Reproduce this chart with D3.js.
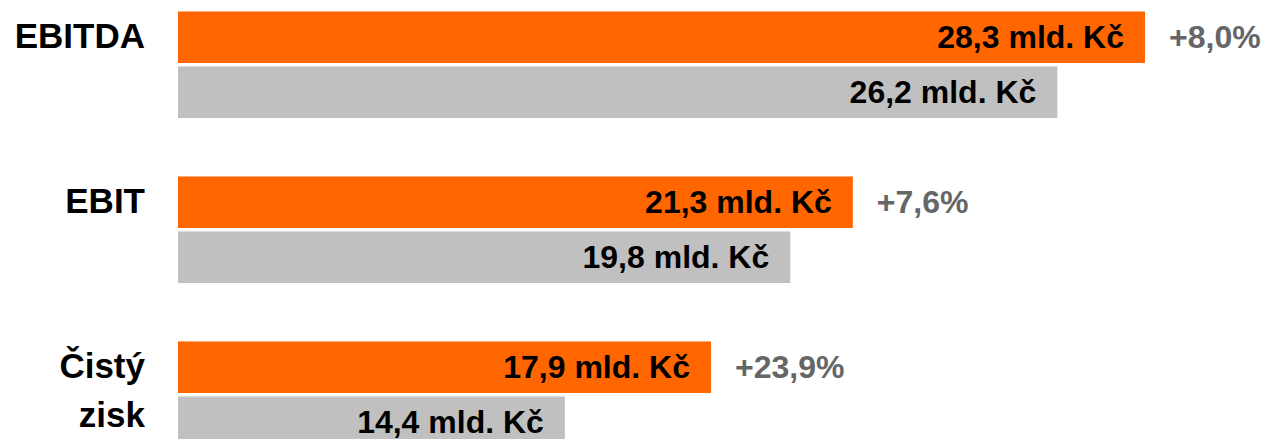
<!DOCTYPE html>
<html>
<head>
<meta charset="utf-8">
<script src="https://cdn.jsdelivr.net/npm/d3@7"></script>
<style>
  html, body { margin: 0; padding: 0; background: #fff; }
  svg { display: block; font-family: "Liberation Sans", Arial, sans-serif; font-weight: bold; }
</style>
</head>
<body>
<svg width="1265" height="439"></svg>
<script>
var categories = ["EBITDA", "EBIT", "Čistý zisk"];
var current = [28.3, 21.3, 17.9];
var previous = [26.2, 19.8, 14.4];
var change = ["+8,0%", "+7,6%", "+23,9%"];
var series = ["current", "previous"];

var svg = d3.select("svg"),
    width = 1265,
    height = 439;

var colors = { current: "#ff6600", previous: "#c0c0c0" };

// bars start at x=178 which is not zero on the value axis
var x = d3.scaleLinear()
    .domain([5.13, 28.3])
    .range([178, 1145]);

var y = d3.scaleBand()
    .domain(categories)
    .range([11, 11 + 165 * categories.length]);

var yInner = d3.scaleBand()
    .domain(series)
    .range([0, 107])
    .paddingInner(3 / 55);

var fmt = function(v) { return d3.format(".1f")(v).replace(".", ",") + " mld. Kč"; };

var rows = categories.map(function(c, i) {
  return { cat: c, current: current[i], previous: previous[i], change: change[i] };
});

var g = svg.append("g")
  .selectAll("g")
  .data(rows)
  .enter().append("g")
    .attr("transform", function(d) { return "translate(0," + y(d.cat) + ")"; });

series.forEach(function(s) {
  g.append("rect")
      .attr("x", x.range()[0])
      .attr("y", yInner(s))
      .attr("width", function(d) { return x(d[s]) - x.range()[0]; })
      .attr("height", yInner.bandwidth())
      .attr("fill", colors[s]);
  // thin light edge at the top of each bar
  g.append("rect")
      .attr("x", x.range()[0])
      .attr("y", yInner(s))
      .attr("width", function(d) { return x(d[s]) - x.range()[0]; })
      .attr("height", 1)
      .attr("fill", "#fff")
      .attr("fill-opacity", 0.45);
  g.append("text")
      .attr("x", function(d) { return x(d[s]) - 21; })
      .attr("y", yInner(s) + yInner.bandwidth() / 2 + 11)
      .attr("text-anchor", "end")
      .attr("font-size", 32)
      .attr("fill", "#000")
      .text(function(d) { return fmt(d[s]); });
});

g.append("text")
    .attr("x", function(d) { return x(d.current) + 24; })
    .attr("y", yInner("current") + yInner.bandwidth() / 2 + 11)
    .attr("font-size", 32)
    .attr("fill", "#666666")
    .text(function(d) { return d.change; });

var label = g.append("text")
    .attr("x", 145)
    .attr("y", yInner("current") + yInner.bandwidth() / 2 + 11)
    .attr("text-anchor", "end")
    .attr("font-size", 35)
    .attr("fill", "#000");

label.each(function(d) {
  var words = d.cat.split(" ");
  var t = d3.select(this);
  words.forEach(function(w, i) {
    t.append("tspan")
        .attr("x", 145)
        .attr("dy", i === 0 ? 0 : 49)
        .text(w);
  });
});
</script>
</body>
</html>
